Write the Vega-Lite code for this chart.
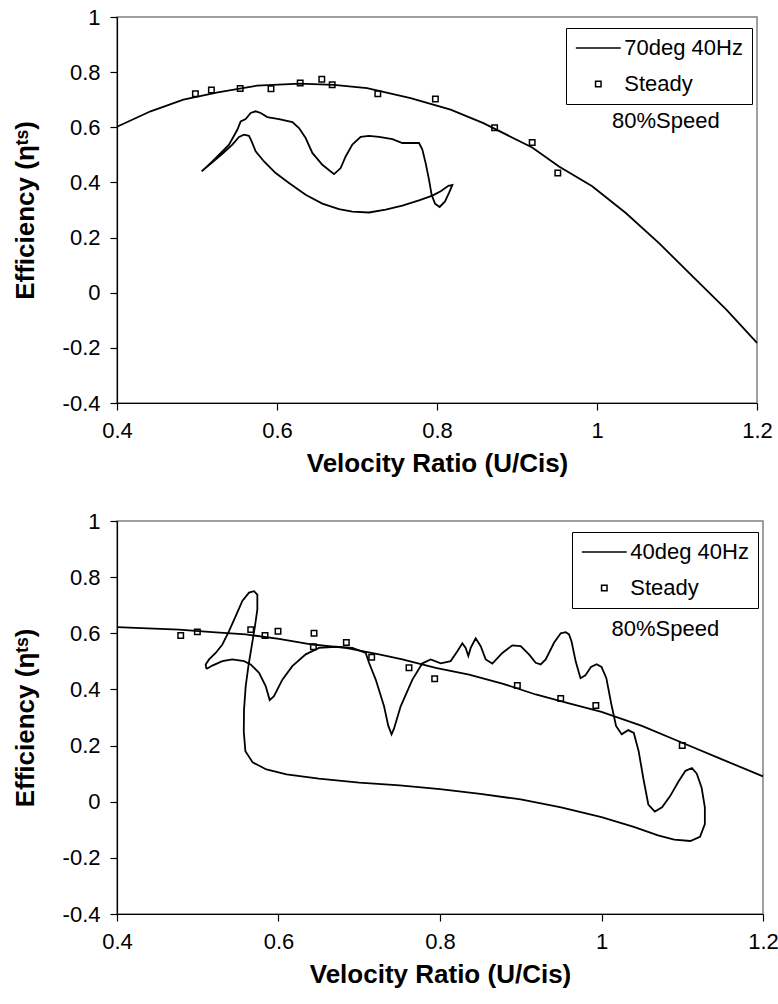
{
  "$schema": "https://vega.github.io/schema/vega-lite/v6.json",
  "background": "white",
  "padding": {"left": 11, "top": 5, "right": 2, "bottom": 2},
  "spacing": 118,
  "bounds": "flush",
  "config": {
    "font": "Liberation Sans",
    "view": {"stroke": "#808080", "strokeWidth": 1.5},
    "axis": {"grid": false, "domainColor": "#000", "domainWidth": 1.2, "tickColor": "#000", "tickWidth": 1.2, "tickSize": 7, "labelFont": "Liberation Sans", "labelFontSize": 22, "labelColor": "#000", "labelExpr": "'' + datum.value", "titleFont": "Liberation Sans", "titleFontSize": 26, "titleFontWeight": "bold", "titleColor": "#000", "labelFlush": false, "labelOverlap": false},
    "axisX": {"labelPadding": 10, "titlePadding": 9},
    "axisY": {"labelPadding": 10, "titlePadding": 24},
    "legend": {"labelFont": "Liberation Sans", "labelFontSize": 22, "labelColor": "#000", "strokeColor": "#000", "fillColor": "white", "padding": 9, "rowPadding": 14, "symbolOffset": 12.3, "labelOffset": 15, "symbolSize": 30, "symbolStrokeColor": "#000", "symbolStrokeWidth": 1.5, "symbolFillColor": "white"}
  },
  "resolve": {"scale": {"shape": "independent"}, "legend": {"shape": "independent"}},
  "datasets": {
    "topLines": [
      {"seg": "curve", "i": 0, "x": 0.4, "y": 0.602},
      {"seg": "curve", "i": 1, "x": 0.442, "y": 0.658},
      {"seg": "curve", "i": 2, "x": 0.483, "y": 0.7},
      {"seg": "curve", "i": 3, "x": 0.526, "y": 0.727},
      {"seg": "curve", "i": 4, "x": 0.575, "y": 0.751},
      {"seg": "curve", "i": 5, "x": 0.629, "y": 0.758},
      {"seg": "curve", "i": 6, "x": 0.671, "y": 0.754},
      {"seg": "curve", "i": 7, "x": 0.7125, "y": 0.742},
      {"seg": "curve", "i": 8, "x": 0.767, "y": 0.706},
      {"seg": "curve", "i": 9, "x": 0.817, "y": 0.664},
      {"seg": "curve", "i": 10, "x": 0.858, "y": 0.615},
      {"seg": "curve", "i": 11, "x": 0.919, "y": 0.527},
      {"seg": "curve", "i": 12, "x": 0.9525, "y": 0.458},
      {"seg": "curve", "i": 13, "x": 0.994, "y": 0.386},
      {"seg": "curve", "i": 14, "x": 1.036, "y": 0.289},
      {"seg": "curve", "i": 15, "x": 1.0775, "y": 0.18},
      {"seg": "curve", "i": 16, "x": 1.1195, "y": 0.059},
      {"seg": "curve", "i": 17, "x": 1.162, "y": -0.062},
      {"seg": "curve", "i": 18, "x": 1.2, "y": -0.182},
      {"seg": "loop", "i": 0, "x": 0.5058, "y": 0.44},
      {"seg": "loop", "i": 1, "x": 0.5192, "y": 0.476},
      {"seg": "loop", "i": 2, "x": 0.5317, "y": 0.513},
      {"seg": "loop", "i": 3, "x": 0.54, "y": 0.537},
      {"seg": "loop", "i": 4, "x": 0.5504, "y": 0.591},
      {"seg": "loop", "i": 5, "x": 0.5546, "y": 0.621},
      {"seg": "loop", "i": 6, "x": 0.5608, "y": 0.63},
      {"seg": "loop", "i": 7, "x": 0.5671, "y": 0.652},
      {"seg": "loop", "i": 8, "x": 0.5733, "y": 0.658},
      {"seg": "loop", "i": 9, "x": 0.5796, "y": 0.652},
      {"seg": "loop", "i": 10, "x": 0.5879, "y": 0.637},
      {"seg": "loop", "i": 11, "x": 0.6025, "y": 0.63},
      {"seg": "loop", "i": 12, "x": 0.6192, "y": 0.619},
      {"seg": "loop", "i": 13, "x": 0.6275, "y": 0.597},
      {"seg": "loop", "i": 14, "x": 0.6358, "y": 0.561},
      {"seg": "loop", "i": 15, "x": 0.6442, "y": 0.507},
      {"seg": "loop", "i": 16, "x": 0.6567, "y": 0.464},
      {"seg": "loop", "i": 17, "x": 0.6713, "y": 0.43},
      {"seg": "loop", "i": 18, "x": 0.6796, "y": 0.452},
      {"seg": "loop", "i": 19, "x": 0.6858, "y": 0.494},
      {"seg": "loop", "i": 20, "x": 0.6942, "y": 0.537},
      {"seg": "loop", "i": 21, "x": 0.7046, "y": 0.565},
      {"seg": "loop", "i": 22, "x": 0.715, "y": 0.569},
      {"seg": "loop", "i": 23, "x": 0.7275, "y": 0.565},
      {"seg": "loop", "i": 24, "x": 0.7442, "y": 0.557},
      {"seg": "loop", "i": 25, "x": 0.7567, "y": 0.543},
      {"seg": "loop", "i": 26, "x": 0.7775, "y": 0.543},
      {"seg": "loop", "i": 27, "x": 0.7817, "y": 0.519},
      {"seg": "loop", "i": 28, "x": 0.7858, "y": 0.47},
      {"seg": "loop", "i": 29, "x": 0.79, "y": 0.41},
      {"seg": "loop", "i": 30, "x": 0.7933, "y": 0.355},
      {"seg": "loop", "i": 31, "x": 0.7975, "y": 0.323},
      {"seg": "loop", "i": 32, "x": 0.8033, "y": 0.311},
      {"seg": "loop", "i": 33, "x": 0.81, "y": 0.331},
      {"seg": "loop", "i": 34, "x": 0.815, "y": 0.362},
      {"seg": "loop", "i": 35, "x": 0.8192, "y": 0.391},
      {"seg": "loop", "i": 36, "x": 0.8142, "y": 0.388},
      {"seg": "loop", "i": 37, "x": 0.8046, "y": 0.368},
      {"seg": "loop", "i": 38, "x": 0.7942, "y": 0.352},
      {"seg": "loop", "i": 39, "x": 0.7775, "y": 0.335},
      {"seg": "loop", "i": 40, "x": 0.7567, "y": 0.316},
      {"seg": "loop", "i": 41, "x": 0.7358, "y": 0.301},
      {"seg": "loop", "i": 42, "x": 0.715, "y": 0.291},
      {"seg": "loop", "i": 43, "x": 0.6942, "y": 0.294},
      {"seg": "loop", "i": 44, "x": 0.6775, "y": 0.303},
      {"seg": "loop", "i": 45, "x": 0.6567, "y": 0.323},
      {"seg": "loop", "i": 46, "x": 0.6358, "y": 0.355},
      {"seg": "loop", "i": 47, "x": 0.615, "y": 0.398},
      {"seg": "loop", "i": 48, "x": 0.5983, "y": 0.434},
      {"seg": "loop", "i": 49, "x": 0.5838, "y": 0.476},
      {"seg": "loop", "i": 50, "x": 0.5733, "y": 0.513},
      {"seg": "loop", "i": 51, "x": 0.5683, "y": 0.549},
      {"seg": "loop", "i": 52, "x": 0.565, "y": 0.569},
      {"seg": "loop", "i": 53, "x": 0.5588, "y": 0.573},
      {"seg": "loop", "i": 54, "x": 0.5525, "y": 0.565},
      {"seg": "loop", "i": 55, "x": 0.5442, "y": 0.537},
      {"seg": "loop", "i": 56, "x": 0.5317, "y": 0.504},
      {"seg": "loop", "i": 57, "x": 0.5192, "y": 0.473},
      {"seg": "loop", "i": 58, "x": 0.5058, "y": 0.44}
    ],
    "topSteady": [
      {"series": "Steady", "x": 0.498, "y": 0.722},
      {"series": "Steady", "x": 0.518, "y": 0.735},
      {"series": "Steady", "x": 0.554, "y": 0.741},
      {"series": "Steady", "x": 0.5925, "y": 0.74},
      {"series": "Steady", "x": 0.629, "y": 0.761},
      {"series": "Steady", "x": 0.656, "y": 0.774},
      {"series": "Steady", "x": 0.669, "y": 0.754},
      {"series": "Steady", "x": 0.726, "y": 0.722},
      {"series": "Steady", "x": 0.798, "y": 0.703},
      {"series": "Steady", "x": 0.872, "y": 0.598},
      {"series": "Steady", "x": 0.919, "y": 0.545},
      {"series": "Steady", "x": 0.951, "y": 0.434}
    ],
    "bottomLines": [
      {"seg": "curve", "i": 0, "x": 0.4, "y": 0.622},
      {"seg": "curve", "i": 1, "x": 0.4768, "y": 0.613},
      {"seg": "curve", "i": 2, "x": 0.518, "y": 0.604},
      {"seg": "curve", "i": 3, "x": 0.5594, "y": 0.596},
      {"seg": "curve", "i": 4, "x": 0.6006, "y": 0.58},
      {"seg": "curve", "i": 5, "x": 0.642, "y": 0.56},
      {"seg": "curve", "i": 6, "x": 0.6832, "y": 0.548},
      {"seg": "curve", "i": 7, "x": 0.7245, "y": 0.525},
      {"seg": "curve", "i": 8, "x": 0.7534, "y": 0.507},
      {"seg": "curve", "i": 9, "x": 0.7947, "y": 0.477},
      {"seg": "curve", "i": 10, "x": 0.836, "y": 0.453},
      {"seg": "curve", "i": 11, "x": 0.8772, "y": 0.421},
      {"seg": "curve", "i": 12, "x": 0.9185, "y": 0.382},
      {"seg": "curve", "i": 13, "x": 0.9598, "y": 0.35},
      {"seg": "curve", "i": 14, "x": 1.0, "y": 0.32},
      {"seg": "curve", "i": 15, "x": 1.05, "y": 0.27},
      {"seg": "curve", "i": 16, "x": 1.1, "y": 0.21},
      {"seg": "curve", "i": 17, "x": 1.15, "y": 0.15},
      {"seg": "curve", "i": 18, "x": 1.2, "y": 0.09},
      {"seg": "loop", "i": 0, "x": 0.5107, "y": 0.473},
      {"seg": "loop", "i": 1, "x": 0.5098, "y": 0.489},
      {"seg": "loop", "i": 2, "x": 0.514, "y": 0.507},
      {"seg": "loop", "i": 3, "x": 0.5222, "y": 0.53},
      {"seg": "loop", "i": 4, "x": 0.5305, "y": 0.56},
      {"seg": "loop", "i": 5, "x": 0.5387, "y": 0.608},
      {"seg": "loop", "i": 6, "x": 0.547, "y": 0.661},
      {"seg": "loop", "i": 7, "x": 0.5552, "y": 0.715},
      {"seg": "loop", "i": 8, "x": 0.5635, "y": 0.745},
      {"seg": "loop", "i": 9, "x": 0.5697, "y": 0.75},
      {"seg": "loop", "i": 10, "x": 0.5738, "y": 0.738},
      {"seg": "loop", "i": 11, "x": 0.5738, "y": 0.685},
      {"seg": "loop", "i": 12, "x": 0.5709, "y": 0.626},
      {"seg": "loop", "i": 13, "x": 0.5668, "y": 0.554},
      {"seg": "loop", "i": 14, "x": 0.5627, "y": 0.483},
      {"seg": "loop", "i": 15, "x": 0.5594, "y": 0.412},
      {"seg": "loop", "i": 16, "x": 0.5573, "y": 0.328},
      {"seg": "loop", "i": 17, "x": 0.557, "y": 0.25},
      {"seg": "loop", "i": 18, "x": 0.559, "y": 0.18},
      {"seg": "loop", "i": 19, "x": 0.568, "y": 0.14},
      {"seg": "loop", "i": 20, "x": 0.585, "y": 0.115},
      {"seg": "loop", "i": 21, "x": 0.61, "y": 0.097},
      {"seg": "loop", "i": 22, "x": 0.65, "y": 0.082},
      {"seg": "loop", "i": 23, "x": 0.7, "y": 0.068},
      {"seg": "loop", "i": 24, "x": 0.75, "y": 0.058},
      {"seg": "loop", "i": 25, "x": 0.8, "y": 0.045},
      {"seg": "loop", "i": 26, "x": 0.85, "y": 0.028},
      {"seg": "loop", "i": 27, "x": 0.9, "y": 0.008},
      {"seg": "loop", "i": 28, "x": 0.95, "y": -0.02},
      {"seg": "loop", "i": 29, "x": 1.0, "y": -0.055},
      {"seg": "loop", "i": 30, "x": 1.04, "y": -0.09},
      {"seg": "loop", "i": 31, "x": 1.07, "y": -0.12},
      {"seg": "loop", "i": 32, "x": 1.09, "y": -0.135},
      {"seg": "loop", "i": 33, "x": 1.11, "y": -0.14},
      {"seg": "loop", "i": 34, "x": 1.122, "y": -0.125},
      {"seg": "loop", "i": 35, "x": 1.128, "y": -0.08},
      {"seg": "loop", "i": 36, "x": 1.128, "y": -0.02},
      {"seg": "loop", "i": 37, "x": 1.124, "y": 0.05},
      {"seg": "loop", "i": 38, "x": 1.118, "y": 0.1},
      {"seg": "loop", "i": 39, "x": 1.112, "y": 0.12},
      {"seg": "loop", "i": 40, "x": 1.104, "y": 0.11},
      {"seg": "loop", "i": 41, "x": 1.095, "y": 0.07},
      {"seg": "loop", "i": 42, "x": 1.085, "y": 0.02},
      {"seg": "loop", "i": 43, "x": 1.075, "y": -0.02},
      {"seg": "loop", "i": 44, "x": 1.066, "y": -0.035},
      {"seg": "loop", "i": 45, "x": 1.058, "y": -0.01},
      {"seg": "loop", "i": 46, "x": 1.052, "y": 0.08},
      {"seg": "loop", "i": 47, "x": 1.046, "y": 0.18},
      {"seg": "loop", "i": 48, "x": 1.04, "y": 0.245},
      {"seg": "loop", "i": 49, "x": 1.033, "y": 0.255},
      {"seg": "loop", "i": 50, "x": 1.025, "y": 0.24},
      {"seg": "loop", "i": 51, "x": 1.018, "y": 0.27},
      {"seg": "loop", "i": 52, "x": 1.012, "y": 0.35},
      {"seg": "loop", "i": 53, "x": 1.006, "y": 0.44},
      {"seg": "loop", "i": 54, "x": 1.0, "y": 0.48},
      {"seg": "loop", "i": 55, "x": 0.994, "y": 0.49},
      {"seg": "loop", "i": 56, "x": 0.987, "y": 0.48},
      {"seg": "loop", "i": 57, "x": 0.98, "y": 0.45},
      {"seg": "loop", "i": 58, "x": 0.974, "y": 0.44},
      {"seg": "loop", "i": 59, "x": 0.968, "y": 0.5},
      {"seg": "loop", "i": 60, "x": 0.963, "y": 0.57},
      {"seg": "loop", "i": 61, "x": 0.9598, "y": 0.596},
      {"seg": "loop", "i": 62, "x": 0.9557, "y": 0.604},
      {"seg": "loop", "i": 63, "x": 0.9495, "y": 0.6},
      {"seg": "loop", "i": 64, "x": 0.9412, "y": 0.566},
      {"seg": "loop", "i": 65, "x": 0.9309, "y": 0.507},
      {"seg": "loop", "i": 66, "x": 0.9247, "y": 0.489},
      {"seg": "loop", "i": 67, "x": 0.9185, "y": 0.495},
      {"seg": "loop", "i": 68, "x": 0.9102, "y": 0.525},
      {"seg": "loop", "i": 69, "x": 0.8999, "y": 0.554},
      {"seg": "loop", "i": 70, "x": 0.8896, "y": 0.557},
      {"seg": "loop", "i": 71, "x": 0.8772, "y": 0.53},
      {"seg": "loop", "i": 72, "x": 0.8648, "y": 0.492},
      {"seg": "loop", "i": 73, "x": 0.8566, "y": 0.507},
      {"seg": "loop", "i": 74, "x": 0.8504, "y": 0.554},
      {"seg": "loop", "i": 75, "x": 0.8442, "y": 0.582},
      {"seg": "loop", "i": 76, "x": 0.838, "y": 0.548},
      {"seg": "loop", "i": 77, "x": 0.8351, "y": 0.519},
      {"seg": "loop", "i": 78, "x": 0.8318, "y": 0.548},
      {"seg": "loop", "i": 79, "x": 0.8277, "y": 0.564},
      {"seg": "loop", "i": 80, "x": 0.8215, "y": 0.536},
      {"seg": "loop", "i": 81, "x": 0.8132, "y": 0.501},
      {"seg": "loop", "i": 82, "x": 0.8009, "y": 0.493},
      {"seg": "loop", "i": 83, "x": 0.7885, "y": 0.507},
      {"seg": "loop", "i": 84, "x": 0.7782, "y": 0.493},
      {"seg": "loop", "i": 85, "x": 0.7658, "y": 0.435},
      {"seg": "loop", "i": 86, "x": 0.7513, "y": 0.34},
      {"seg": "loop", "i": 87, "x": 0.743, "y": 0.26},
      {"seg": "loop", "i": 88, "x": 0.74, "y": 0.24},
      {"seg": "loop", "i": 89, "x": 0.736, "y": 0.27},
      {"seg": "loop", "i": 90, "x": 0.7307, "y": 0.34},
      {"seg": "loop", "i": 91, "x": 0.7204, "y": 0.435},
      {"seg": "loop", "i": 92, "x": 0.7121, "y": 0.495},
      {"seg": "loop", "i": 93, "x": 0.708, "y": 0.53},
      {"seg": "loop", "i": 94, "x": 0.6915, "y": 0.548},
      {"seg": "loop", "i": 95, "x": 0.6708, "y": 0.552},
      {"seg": "loop", "i": 96, "x": 0.6502, "y": 0.548},
      {"seg": "loop", "i": 97, "x": 0.6337, "y": 0.525},
      {"seg": "loop", "i": 98, "x": 0.6171, "y": 0.483},
      {"seg": "loop", "i": 99, "x": 0.6048, "y": 0.435},
      {"seg": "loop", "i": 100, "x": 0.5944, "y": 0.376},
      {"seg": "loop", "i": 101, "x": 0.5891, "y": 0.362},
      {"seg": "loop", "i": 102, "x": 0.5841, "y": 0.412},
      {"seg": "loop", "i": 103, "x": 0.5759, "y": 0.459},
      {"seg": "loop", "i": 104, "x": 0.5655, "y": 0.489},
      {"seg": "loop", "i": 105, "x": 0.5573, "y": 0.501},
      {"seg": "loop", "i": 106, "x": 0.5428, "y": 0.507},
      {"seg": "loop", "i": 107, "x": 0.5305, "y": 0.501},
      {"seg": "loop", "i": 108, "x": 0.518, "y": 0.485},
      {"seg": "loop", "i": 109, "x": 0.5107, "y": 0.473}
    ],
    "bottomSteady": [
      {"series": "Steady", "x": 0.4789, "y": 0.592},
      {"series": "Steady", "x": 0.4995, "y": 0.605},
      {"series": "Steady", "x": 0.5656, "y": 0.613},
      {"series": "Steady", "x": 0.5833, "y": 0.592},
      {"series": "Steady", "x": 0.5994, "y": 0.607},
      {"series": "Steady", "x": 0.644, "y": 0.6},
      {"series": "Steady", "x": 0.6432, "y": 0.552},
      {"series": "Steady", "x": 0.684, "y": 0.567},
      {"series": "Steady", "x": 0.7154, "y": 0.515},
      {"series": "Steady", "x": 0.7616, "y": 0.477},
      {"series": "Steady", "x": 0.7934, "y": 0.438},
      {"series": "Steady", "x": 0.8958, "y": 0.414},
      {"series": "Steady", "x": 0.9495, "y": 0.368},
      {"series": "Steady", "x": 0.993, "y": 0.343},
      {"series": "Steady", "x": 1.1, "y": 0.2}
    ]
  },
  "vconcat": [
    {
      "width": 640,
      "height": 386,
      "layer": [
        {
          "data": {"name": "topLines"},
          "mark": {"type": "line", "color": "#000", "strokeWidth": 1.8},
          "encoding": {
            "x": {"field": "x", "type": "quantitative", "scale": {"domain": [0.4, 1.2], "nice": false, "zero": false}, "axis": {"values": [0.4, 0.6, 0.8, 1, 1.2], "title": "Velocity Ratio (U/Cis)"}},
            "y": {"field": "y", "type": "quantitative", "scale": {"domain": [-0.4, 1], "nice": false, "zero": false}, "axis": {"values": [-0.4, -0.2, 0, 0.2, 0.4, 0.6, 0.8, 1], "title": "Efficiency (ηᵗˢ)"}},
            "detail": {"field": "seg"},
            "order": {"field": "i", "type": "quantitative"}
          }
        },
        {
          "data": {"name": "topSteady"},
          "mark": {"type": "point", "filled": false, "color": "#000", "strokeWidth": 1.5, "opacity": 1, "size": 30},
          "encoding": {
            "x": {"field": "x", "type": "quantitative"},
            "y": {"field": "y", "type": "quantitative"},
            "shape": {"field": "series", "type": "nominal", "scale": {"domain": ["70deg 40Hz", "Steady"], "range": ["M-8.2,0H8.2", "square"]}, "legend": {"title": null, "orient": "none", "legendX": 449, "legendY": 11}}
          }
        },
        {
          "data": {"values": [{"x": 1.086, "y": 0.621, "t": "80%Speed"}]},
          "mark": {"type": "text", "fontSize": 22, "font": "Liberation Sans", "color": "#000"},
          "encoding": {
            "x": {"field": "x", "type": "quantitative"},
            "y": {"field": "y", "type": "quantitative"},
            "text": {"field": "t"}
          }
        }
      ]
    },
    {
      "width": 646,
      "height": 393,
      "layer": [
        {
          "data": {"name": "bottomLines"},
          "mark": {"type": "line", "color": "#000", "strokeWidth": 1.8},
          "encoding": {
            "x": {"field": "x", "type": "quantitative", "scale": {"domain": [0.4, 1.2], "nice": false, "zero": false}, "axis": {"values": [0.4, 0.6, 0.8, 1, 1.2], "title": "Velocity Ratio (U/Cis)"}},
            "y": {"field": "y", "type": "quantitative", "scale": {"domain": [-0.4, 1], "nice": false, "zero": false}, "axis": {"values": [-0.4, -0.2, 0, 0.2, 0.4, 0.6, 0.8, 1], "title": "Efficiency (ηᵗˢ)"}},
            "detail": {"field": "seg"},
            "order": {"field": "i", "type": "quantitative"}
          }
        },
        {
          "data": {"name": "bottomSteady"},
          "mark": {"type": "point", "filled": false, "color": "#000", "strokeWidth": 1.5, "opacity": 1, "size": 30},
          "encoding": {
            "x": {"field": "x", "type": "quantitative"},
            "y": {"field": "y", "type": "quantitative"},
            "shape": {"field": "series", "type": "nominal", "scale": {"domain": ["40deg 40Hz", "Steady"], "range": ["M-8.2,0H8.2", "square"]}, "legend": {"title": null, "orient": "none", "legendX": 455, "legendY": 11}}
          }
        },
        {
          "data": {"values": [{"x": 1.079, "y": 0.616, "t": "80%Speed"}]},
          "mark": {"type": "text", "fontSize": 22, "font": "Liberation Sans", "color": "#000"},
          "encoding": {
            "x": {"field": "x", "type": "quantitative"},
            "y": {"field": "y", "type": "quantitative"},
            "text": {"field": "t"}
          }
        }
      ]
    }
  ]
}
